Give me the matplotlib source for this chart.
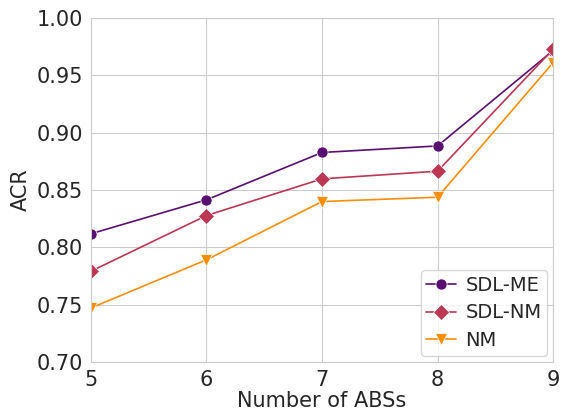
import matplotlib
matplotlib.use("Agg")
import matplotlib.pyplot as plt
import seaborn as sns

sns.set_style("whitegrid")
plt.rcParams['font.family'] = ['DejaVu Sans']

num_abs = [5, 6, 7, 8, 9]
sdl_me = [0.8117, 0.8413, 0.8826, 0.8883, 0.9715]
sdl_nm = [0.7790, 0.8276, 0.8596, 0.8663, 0.9727]
nm = [0.7470, 0.7890, 0.8398, 0.8436, 0.9610]
yticks = [0.70, 0.75, 0.80, 0.85, 0.90, 0.95, 1.00]

colors = sns.color_palette("inferno", 3)

fig = plt.figure(figsize=(5.61, 4.15), dpi=100)
ax = fig.add_axes([0.162, 0.128, 0.824, 0.829])

ax.plot(num_abs, sdl_me, marker='o', color=colors[0], lw=1.2, ms=8, mec='white', mew=0.5, label='SDL-ME')
ax.plot(num_abs, sdl_nm, marker='D', color=colors[1], lw=1.2, ms=8, mec='white', mew=0.5, label='SDL-NM')
ax.plot(num_abs, nm, marker='v', color=colors[2], lw=1.2, ms=9, mec='white', mew=0.5, label='NM')

ax.set_xlim(5, 9)
ax.set_ylim(0.70, 1.00)
ax.set_xticks(num_abs)
ax.set_yticks(yticks)
ax.set_yticklabels([f"{v:.2f}" for v in yticks])
ax.tick_params(labelsize=15, pad=2)
ax.set_xlabel("Number of ABSs", fontsize=15, labelpad=1)
ax.set_ylabel("ACR", fontsize=15, labelpad=4)
ax.legend(loc='lower right', fontsize=14, handlelength=1.5, borderpad=0.3,
          labelspacing=0.45, handletextpad=0.5, borderaxespad=0.3)

fig.savefig("out.png", dpi=100)
